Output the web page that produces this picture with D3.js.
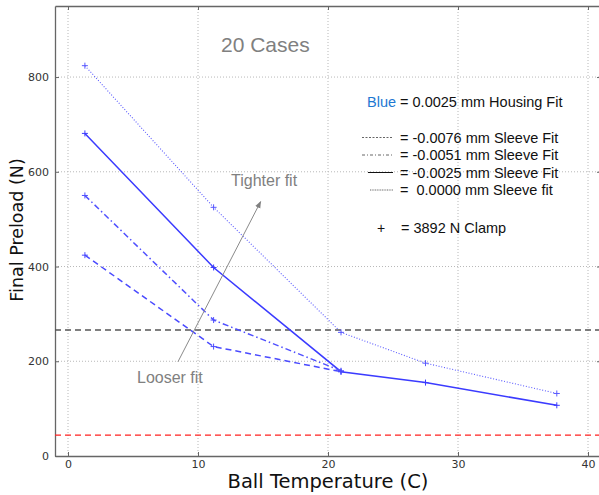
<!DOCTYPE html>
<html><head><meta charset="utf-8">
<script src="https://cdn.jsdelivr.net/npm/d3@7"></script>
<style>body{margin:0;background:#fff}svg{display:block}</style>
</head><body><svg id="c" width="599" height="495"></svg>
<script>
const temps = [1.3, 11.2, 21.0, 27.5, 37.6];
const fit0000 = [824, 525, 261, 196, 132];
const fit0025 = [681, 398, 178, 155, 107];
const fit0051 = [550, 287, 180];
const fit0076 = [424, 231, 178];
const xTicks = [0, 10, 20, 30, 40];
const yTicks = [0, 200, 400, 600, 800];
const refBlack = 266;
const refRed = 44;
const arrowFrom = [8.46, 199];
const arrowTo = [14.82, 537];

const svg = d3.select("#c");
const m = {l:55, t:6, r:601, b:456};
const x = d3.scaleLinear().domain([-1, 41]).range([m.l, m.r]);
const y = d3.scaleLinear().domain([0, 950]).range([m.b, m.t]);

// grid
const g = svg.append("g");
g.selectAll(".vg").data(xTicks).join("line")
  .attr("x1", d=>x(d)).attr("x2", d=>x(d)).attr("y1", m.t).attr("y2", m.b)
  .attr("stroke", "#b8b8b8").attr("stroke-width", 1).attr("stroke-dasharray", "1,2");
g.selectAll(".hg").data(yTicks.filter(d=>d>0)).join("line")
  .attr("y1", d=>y(d)).attr("y2", d=>y(d)).attr("x1", m.l).attr("x2", m.r)
  .attr("stroke", "#b8b8b8").attr("stroke-width", 1).attr("stroke-dasharray", "1,2");

// axes
svg.append("g").attr("transform", `translate(0,${m.b})`)
  .call(d3.axisBottom(x).tickValues(xTicks).tickSizeInner(-4).tickSizeOuter(0).tickPadding(4));
svg.append("g").attr("transform", `translate(${m.l},0)`)
  .call(d3.axisLeft(y).tickValues(yTicks).tickSizeInner(-4).tickSizeOuter(0).tickPadding(6));
svg.append("g").attr("transform", `translate(0,${m.t})`)
  .call(d3.axisTop(x).tickValues(xTicks).tickSizeInner(-4).tickSizeOuter(0).tickFormat(""));
svg.append("g").attr("transform", `translate(${m.r},0)`)
  .call(d3.axisRight(y).tickValues(yTicks).tickSizeInner(-4).tickSizeOuter(0).tickFormat(""));
svg.selectAll(".domain").attr("stroke", "#666").attr("stroke-width", 1.3);
svg.selectAll(".tick line").attr("stroke", "#666");
svg.selectAll(".tick text").attr("font-family", "DejaVu Sans").attr("font-size", 11).attr("fill", "#333");

// reference lines
svg.append("line").attr("x1", m.l).attr("x2", m.r).attr("y1", y(refBlack)).attr("y2", y(refBlack))
  .attr("stroke", "#555").attr("stroke-width", 1.3).attr("stroke-dasharray", "6,4");
svg.append("line").attr("x1", m.l).attr("x2", m.r).attr("y1", y(refRed)).attr("y2", y(refRed))
  .attr("stroke", "#ff2020").attr("stroke-width", 1.3).attr("stroke-dasharray", "6,4");

// series
const series = [
  {v: fit0000, dash: "1,1.8", w: 1.1, c: "#5a5aff"},
  {v: fit0025, dash: null, w: 1.5, c: "#3b3bff"},
  {v: fit0051, dash: "6,3,1.5,3", w: 1.5, c: "#5050ff"},
  {v: fit0076, dash: "6,4", w: 1.5, c: "#4a4aff"}
];
const line = d3.line().x((d,i)=>x(temps[i])).y(d=>y(d));
series.forEach(s=>{
  svg.append("path").attr("d", line(s.v)).attr("fill", "none").attr("stroke", s.c)
    .attr("stroke-width", s.w).attr("stroke-dasharray", s.dash);
  svg.append("g").selectAll("path").data(s.v).join("path")
    .attr("d", (d,i)=>`M${x(temps[i])-3},${y(d)}h6M${x(temps[i])},${y(d)-3}v6`)
    .attr("stroke", s.c).attr("stroke-width", 1);
});

// arrow
svg.append("defs").append("marker").attr("id","ah").attr("viewBox","0 0 10 10")
  .attr("refX", 9).attr("refY", 5).attr("markerWidth", 7).attr("markerHeight", 7).attr("orient","auto")
  .append("path").attr("d","M0,1L10,5L0,9z").attr("fill","#808080");
svg.append("line").attr("x1", x(arrowFrom[0])).attr("y1", y(arrowFrom[1]))
  .attr("x2", x(arrowTo[0])).attr("y2", y(arrowTo[1]))
  .attr("stroke", "#8a8a8a").attr("stroke-width", 1).attr("marker-end", "url(#ah)");

// texts
const T = (tx, ty, s, size, fill, anchor) => svg.append("text").attr("x", tx).attr("y", ty)
  .attr("font-family", "Liberation Sans, Arial").attr("font-size", size).attr("fill", fill)
  .attr("text-anchor", anchor || "start").text(s);
T(221, 52, "20 Cases", 21, "#808080");
T(231, 186, "Tighter fit", 16, "#808080");
T(137, 383, "Looser fit", 16, "#808080");

const lt = svg.append("text").attr("x", 367).attr("y", 107).attr("font-family", "Liberation Sans, Arial")
  .attr("font-size", 14.5).attr("fill", "#111");
lt.append("tspan").attr("fill", "#1e78d2").text("Blue");
lt.append("tspan").text(" = 0.0025 mm Housing Fit");

const legRows = [
  {dash: "2,1.5", t: "= -0.0076 mm Sleeve Fit", x0: 362},
  {dash: "3,2,1,2", t: "= -0.0051 mm Sleeve Fit", x0: 362},
  {dash: null, t: "= -0.0025 mm Sleeve Fit", x0: 368},
  {dash: "1,0.7", t: "=  0.0000 mm Sleeve fit", x0: 370}
];
const rowY = [137.5, 155, 172.5, 190];
legRows.forEach((r,i)=>{
  svg.append("line").attr("x1", r.x0).attr("x2", 393).attr("y1", rowY[i]).attr("y2", rowY[i])
    .attr("stroke", i===2 ? "#111" : "#666").attr("stroke-width", 1).attr("stroke-dasharray", r.dash);
  T(400, rowY[i]+5, r.t, 14.5, "#111").attr("xml:space", "preserve");
});
T(381, 233, "+", 14, "#111", "middle");
T(401, 233, "= 3892 N Clamp", 14.5, "#111");

// axis labels
svg.append("text").attr("x", 328).attr("y", 488).attr("text-anchor", "middle")
  .attr("font-family", "DejaVu Sans").attr("font-size", 19.5).attr("fill", "#111").text("Ball Temperature (C)");
svg.append("text").attr("transform", "translate(23,230) rotate(-90)").attr("text-anchor", "middle")
  .attr("font-family", "DejaVu Sans").attr("font-size", 17.5).attr("fill", "#111").text("Final Preload (N)");
</script></body></html>
